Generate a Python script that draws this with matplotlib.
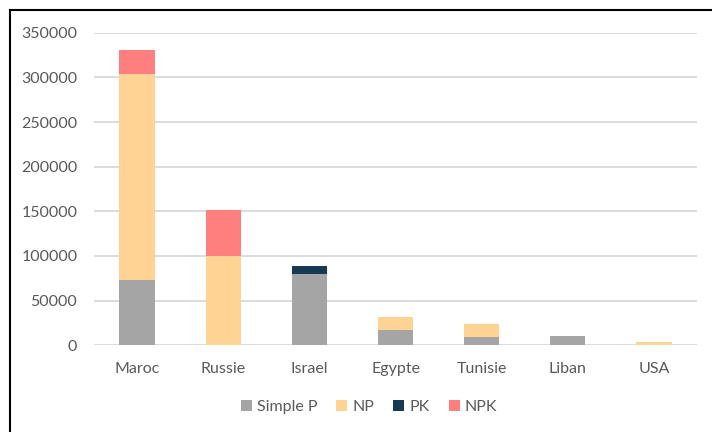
import matplotlib.pyplot as plt
from matplotlib.lines import Line2D
import numpy as np

countries = ["Maroc", "Russie", "Israel", "Egypte", "Tunisie", "Liban", "USA"]
simple_p = [73000, 0, 80000, 17500, 9300, 10000, 0]
np_vals = [230500, 100000, 0, 13800, 13900, 0, 4000]
pk_vals = [0, 0, 9000, 0, 0, 0, 0]
npk_vals = [27500, 52000, 0, 0, 0, 0, 0]

series_names = ["Simple P", "NP", "PK", "NPK"]
colors = ["#A5A5A5", "#FFD393", "#173A54", "#FF7F7F"]

plt.rcParams['font.family'] = ['Lato', 'DejaVu Sans']
text_col = "#595959"

fig = plt.figure(figsize=(7.12, 4.32), dpi=100)
ax = fig.add_axes([0.132, 0.201, 0.847, 0.723])

x = np.arange(len(countries))
bottom = np.zeros(len(countries))
for name, vals, c in zip(series_names, [simple_p, np_vals, pk_vals, npk_vals], colors):
    ax.bar(x, vals, width=0.41, bottom=bottom, color=c, label=name, zorder=3)
    bottom += np.array(vals)

ax.set_xlim(-0.5, len(countries) - 0.5)
ax.set_ylim(0, 350000)
ax.set_yticks(range(0, 350001, 50000))
ax.set_xticks(x)
ax.set_xticklabels(countries)
ax.yaxis.grid(True, color="#D9D9D9", linewidth=1.3, zorder=0)
ax.tick_params(axis='both', length=0, labelsize=11.5, colors=text_col)
ax.tick_params(axis='x', pad=12)
ax.tick_params(axis='y', pad=12)
for s in ax.spines.values():
    s.set_visible(False)

fig.legend(loc='center', bbox_to_anchor=(0.518, 0.058), ncol=4, frameon=False,
           fontsize=11.5, labelcolor=text_col, handlelength=0.7, handleheight=0.7,
           handletextpad=0.3, columnspacing=1.2)

# outer frame (left and top edge)
fig.add_artist(Line2D([10/712, 10/712], [0, 1 - 10/432], color="black", linewidth=1.5))
fig.add_artist(Line2D([10/712, 1], [1 - 10/432, 1 - 10/432], color="black", linewidth=1.5))

fig.savefig("out.png", dpi=100)
